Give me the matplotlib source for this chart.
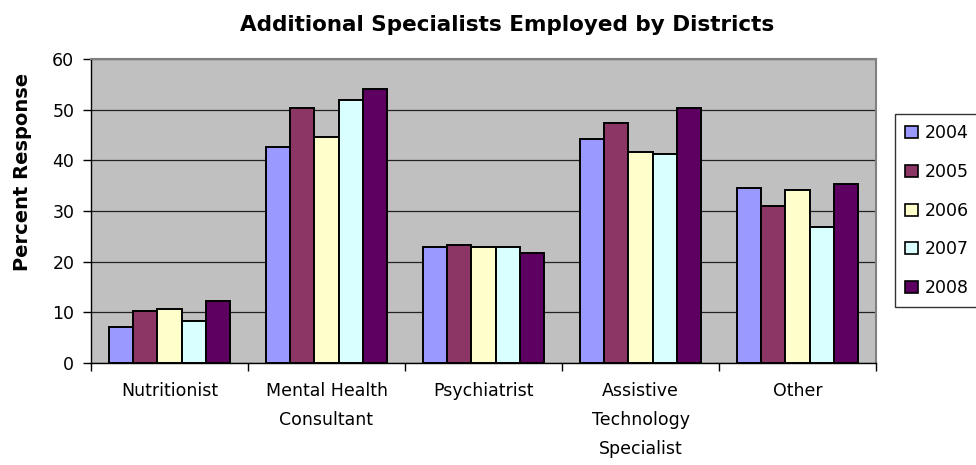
import numpy as np
import matplotlib.pyplot as plt
from matplotlib.patches import Patch

plt.rcParams['font.family'] = ['DejaVu Sans']

categories = ['Nutritionist', 'Mental Health\nConsultant', 'Psychiatrist',
              'Assistive\nTechnology\nSpecialist', 'Other']
years = ['2004', '2005', '2006', '2007', '2008']
v2004 = [7.1, 42.7, 22.8, 44.2, 34.5]
v2005 = [10.2, 50.3, 23.2, 47.3, 30.9]
v2006 = [10.7, 44.6, 22.8, 41.6, 34.1]
v2007 = [8.2, 51.9, 22.8, 41.2, 26.9]
v2008 = [12.2, 54.0, 21.7, 50.3, 35.3]
series = [v2004, v2005, v2006, v2007, v2008]
colors = ['#9999FF', '#8C3665', '#FFFFCC', '#DAFFFF', '#5E0062']

fig = plt.figure(figsize=(9.76, 4.65), dpi=100)
ax = fig.add_axes([91/976, 1-363/465, (876-91)/976, (363-59)/465])
ax.set_facecolor('#C0C0C0')

x = np.arange(len(categories))
w = 0.154
for i, vals in enumerate(series):
    ax.bar(x + (i-2)*w, vals, w, color=colors[i], edgecolor='black',
           linewidth=1.4, zorder=3)

ax.set_xlim(-0.5, 4.5)
ax.set_ylim(0, 60)
ax.set_yticks(range(0, 61, 10))
ax.yaxis.grid(True, color='#222222', linewidth=0.9, zorder=1)
ax.tick_params(axis='y', length=6, width=1, pad=6, labelsize=12.5, direction='out')
ax.set_xticks(x)
ax.set_xticklabels(categories, fontsize=12.5, linespacing=1.78, va='top')
ax.tick_params(axis='x', which='major', length=0, pad=14)
ax.set_xticks(np.arange(-0.5, 5, 1), minor=True)
ax.tick_params(axis='x', which='minor', length=6, width=1, direction='out')

for s in ['top', 'right']:
    ax.spines[s].set_color('#808080')
    ax.spines[s].set_linewidth(1.5)
for s in ['left', 'bottom']:
    ax.spines[s].set_color('black')
    ax.spines[s].set_linewidth(1)

ax.set_ylabel('Percent Response', fontsize=14, fontweight='bold')
ax.yaxis.set_label_coords(-0.075, 0.63)

fig.text(507/976, 1-31/465, 'Additional Specialists Employed by Districts',
         ha='center', va='baseline', fontsize=15.5, fontweight='bold')

handles = [Patch(facecolor=c, edgecolor='black', linewidth=1.2) for c in colors]
leg = fig.legend(handles, years, loc='upper left', bbox_to_anchor=(895/976, 1-114/465),
                 fontsize=12.5, frameon=True, fancybox=False, edgecolor='black',
                 handlelength=0.7, handleheight=0.7, handletextpad=0.4,
                 labelspacing=1.19, borderpad=0.6, borderaxespad=0)
leg.get_frame().set_linewidth(1)

fig.savefig('out.png', dpi=100)
